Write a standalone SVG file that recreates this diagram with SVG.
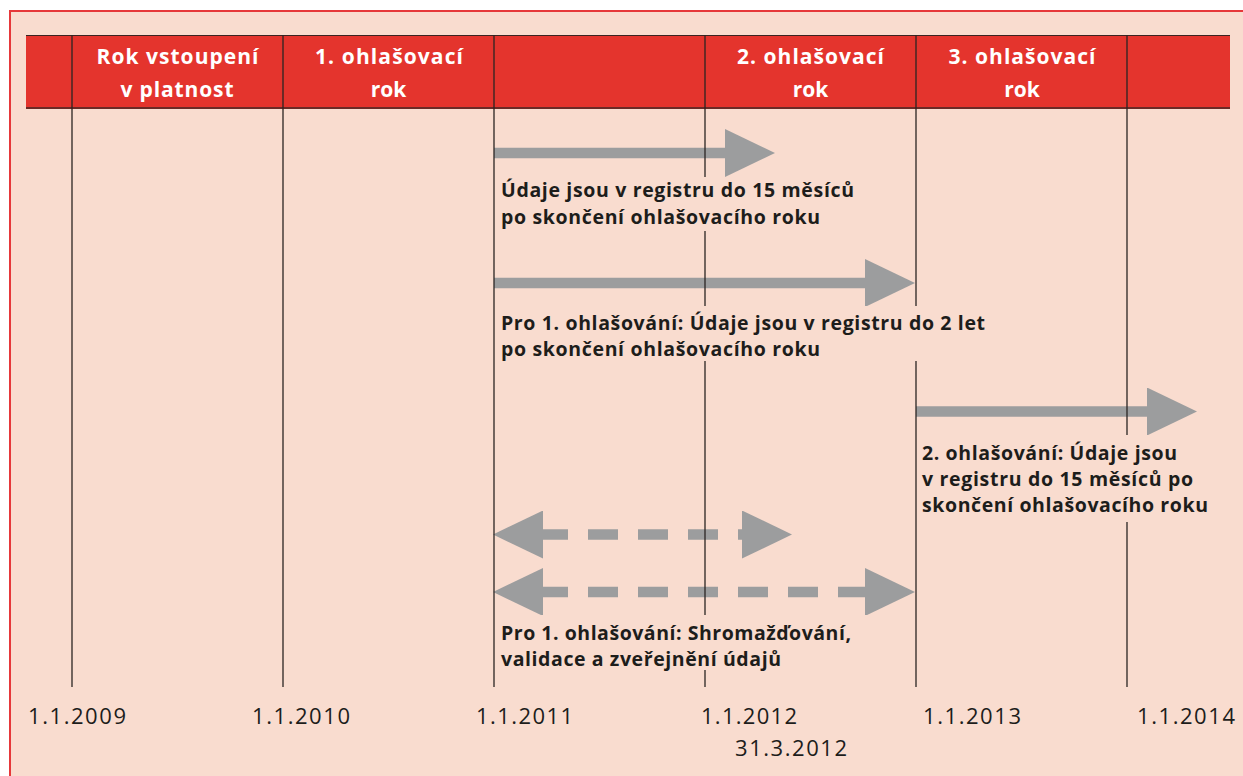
<svg xmlns="http://www.w3.org/2000/svg" width="1243" height="776" viewBox="0 0 1243 776">
<style>
.frame{fill:#f9dccf;stroke:#e6383a;stroke-width:2}
.band{fill:#e4342d}
.vl{stroke:#2a2422;stroke-width:1.3;fill:none}
.hd{font-family:"Open Sans","Liberation Sans",sans-serif;font-weight:700;font-size:21px;fill:#ffffff;text-anchor:middle}
.lb{font-family:"Open Sans","Liberation Sans",sans-serif;font-weight:700;font-size:19.5px;fill:#1d1d1b}
.dt{font-family:"Open Sans","Liberation Sans",sans-serif;font-size:22px;fill:#1d1d1b}
.bg{fill:#f9dccf}
.sh{stroke:#9c9d9e;stroke-width:10.5;fill:none}
.dash{stroke-dasharray:30 20}
</style>
<defs>
<marker id="ah" markerUnits="userSpaceOnUse" markerWidth="50" markerHeight="48" viewBox="0 0 50 48" refX="5" refY="24" orient="auto-start-reverse">
<path d="M0,0 L50,24 L0,48 Z" fill="#9c9d9e"/>
</marker>
</defs>
<rect class="frame" x="10" y="11" width="1260" height="800"/>
<g id="header">
<rect class="band" x="26" y="35" width="1204" height="74"/>
<line x1="26" y1="35.5" x2="1230" y2="35.5" stroke="#3a2422" stroke-width="1"/>
<line x1="26" y1="108" x2="1230" y2="108" stroke="#6b2a26" stroke-width="2"/>
</g>
<g id="connectors">
<line class="sh" x1="494" y1="153" x2="730" y2="153" marker-end="url(#ah)"/>
<line class="sh" x1="494" y1="283" x2="870" y2="283" marker-end="url(#ah)"/>
<line class="sh" x1="916" y1="411.5" x2="1152" y2="411.5" marker-end="url(#ah)"/>
<line class="sh dash" x1="538" y1="534.5" x2="747" y2="534.5" marker-start="url(#ah)" marker-end="url(#ah)"/>
<line class="sh dash" x1="538" y1="592" x2="870" y2="592" marker-start="url(#ah)" marker-end="url(#ah)"/>
</g>
<g id="gridlines">
<line class="vl" x1="72" y1="35" x2="72" y2="687"/>
<line class="vl" x1="283" y1="35" x2="283" y2="687"/>
<line class="vl" x1="494" y1="35" x2="494" y2="687"/>
<line class="vl" x1="705" y1="35" x2="705" y2="687"/>
<line class="vl" x1="916" y1="35" x2="916" y2="687"/>
<line class="vl" x1="1127" y1="35" x2="1127" y2="687"/>
</g>
<g id="col-rok-vstoupeni">
<text class="hd" x="177.5" y="64" textLength="162" lengthAdjust="spacing">Rok vstoupení</text>
<text class="hd" x="177" y="97" textLength="113" lengthAdjust="spacing">v platnost</text>
</g>
<g id="col-1-ohlasovaci">
<text class="hd" x="389" y="64" textLength="148" lengthAdjust="spacing">1. ohlašovací</text>
<text class="hd" x="388.5" y="97">rok</text>
</g>
<g id="col-2-ohlasovaci">
<text class="hd" x="810.5" y="64" textLength="147" lengthAdjust="spacing">2. ohlašovací</text>
<text class="hd" x="810.5" y="97">rok</text>
</g>
<g id="col-3-ohlasovaci">
<text class="hd" x="1022" y="64" textLength="147" lengthAdjust="spacing">3. ohlašovací</text>
<text class="hd" x="1022" y="97">rok</text>
</g>
<g id="label-15-mesicu">
<rect class="bg" x="497" y="177" width="362" height="54"/>
<text class="lb" x="501" y="197" textLength="353" lengthAdjust="spacing">Údaje jsou v registru do 15 měsíců</text>
<text class="lb" x="501" y="224" textLength="319" lengthAdjust="spacing">po skončení ohlašovacího roku</text>
</g>
<g id="label-2-let">
<rect class="bg" x="497" y="306" width="492" height="55"/>
<text class="lb" x="501" y="330" textLength="484" lengthAdjust="spacing">Pro 1. ohlašování: Údaje jsou v registru do 2 let</text>
<text class="lb" x="501" y="356" textLength="319" lengthAdjust="spacing">po skončení ohlašovacího roku</text>
</g>
<g id="label-2-ohlasovani">
<rect class="bg" x="919" y="435" width="295" height="87"/>
<text class="lb" x="922" y="460" textLength="255" lengthAdjust="spacing">2. ohlašování: Údaje jsou</text>
<text class="lb" x="922" y="486" textLength="271" lengthAdjust="spacing">v registru do 15 měsíců po</text>
<text class="lb" x="922" y="512" textLength="286" lengthAdjust="spacing">skončení ohlašovacího roku</text>
</g>
<g id="label-shromazdovani">
<rect class="bg" x="497" y="615" width="370" height="55"/>
<text class="lb" x="501" y="640" textLength="350" lengthAdjust="spacing">Pro 1. ohlašování: Shromažďování,</text>
<text class="lb" x="501" y="666" textLength="280" lengthAdjust="spacing">validace a zveřejnění údajů</text>
</g>
<g id="dates">
<text class="dt" x="28" y="724" textLength="98" lengthAdjust="spacing">1.1.2009</text>
<text class="dt" x="252" y="724" textLength="98" lengthAdjust="spacing">1.1.2010</text>
<text class="dt" x="476" y="724" textLength="97" lengthAdjust="spacing">1.1.2011</text>
<text class="dt" x="701" y="724" textLength="96" lengthAdjust="spacing">1.1.2012</text>
<text class="dt" x="735" y="755.5" textLength="112" lengthAdjust="spacing">31.3.2012</text>
<text class="dt" x="923" y="724" textLength="98" lengthAdjust="spacing">1.1.2013</text>
<text class="dt" x="1137" y="724" textLength="98" lengthAdjust="spacing">1.1.2014</text>
</g>
</svg>
